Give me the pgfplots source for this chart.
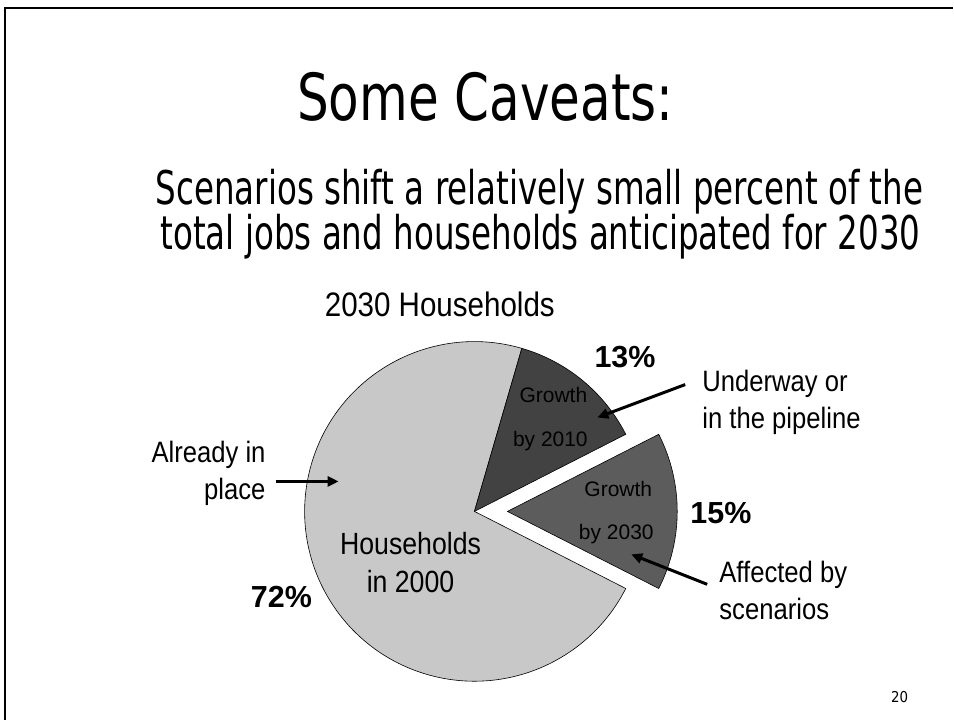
\documentclass[border=0pt]{standalone}
\usepackage{pgfplots}
\pgfplotsset{compat=1.18}
\usepackage{pgfplotstable}
\usetikzlibrary{arrows.meta}
\usepackage{fontspec}
\setmainfont{Liberation Sans}
\newfontfamily\tah[FakeStretch=0.77]{DejaVu Sans}
\newfontfamily\subf[FakeStretch=0.70]{DejaVu Sans}
\newfontfamily\pgnum[FakeStretch=0.89]{DejaVu Sans}
\newfontfamily\nar[FakeStretch=0.87]{Liberation Sans}
\newfontfamily\ari{Liberation Sans}
\definecolor{lightc}{RGB}{200,200,200}
\definecolor{darkc}{RGB}{66,66,66}
\definecolor{midc}{RGB}{92,92,92}

\pgfplotstableread{
label value
Households2000 72
Growth2010 13
Growth2030 15
}\piedata

\begin{document}
\begin{tikzpicture}
\pgfplotstablegetelem{0}{value}\of\piedata \let\vA\pgfplotsretval
\pgfplotstablegetelem{1}{value}\of\piedata \let\vB\pgfplotsretval
\pgfplotstablegetelem{2}{value}\of\piedata \let\vC\pgfplotsretval
\pgfmathsetmacro\sC{-\vC*3.6/2}
\pgfmathsetmacro\eC{\vC*3.6/2}
\pgfmathsetmacro\sB{\eC}
\pgfmathsetmacro\eB{\eC+\vB*3.6}
\pgfmathsetmacro\sA{\eB}
\pgfmathsetmacro\eA{\eB+\vA*3.6}
\begin{axis}[hide axis, scale only axis, width=954pt, height=721pt,
  xmin=0, xmax=954, ymin=-721, ymax=0, clip=false]
\path (axis cs:0,0) rectangle (axis cs:954,-721);
% slide frame
\draw[line width=2.2pt] (axis cs:5,-721) -- (axis cs:5,-8) -- (axis cs:954,-8);
% pie wedges
\filldraw[fill=lightc, draw=black, line width=0.6pt] (axis cs:475,-512) -- ++(\sA:170pt) arc[start angle=\sA, end angle=\eA, radius=170pt] -- cycle;
\filldraw[fill=darkc, draw=black, line width=0.6pt] (axis cs:475,-512) -- ++(\sB:170pt) arc[start angle=\sB, end angle=\eB, radius=170pt] -- cycle;
\filldraw[fill=midc, draw=black, line width=0.6pt] (axis cs:508,-512) -- ++(\sC:170pt) arc[start angle=\sC, end angle=\eC, radius=170pt] -- cycle;
% titles
\node[anchor=base, inner sep=0] at (axis cs:486,-121) {\tah\fontsize{65}{70}\selectfont Some Caveats:};
\node[anchor=base, inner sep=0] at (axis cs:540,-205) {\subf\fontsize{46.5}{50}\selectfont Scenarios shift a relatively small percent of the};
\node[anchor=base, inner sep=0] at (axis cs:541,-250) {\subf\fontsize{46.5}{50}\selectfont total jobs and households anticipated for 2030};
\node[anchor=base west, inner sep=0] at (axis cs:325,-317) {\nar\fontsize{34}{38}\selectfont 2030 Households};
% percentages
\node[anchor=base west, inner sep=0] at (axis cs:595,-368) {\ari\bfseries\fontsize{30.5}{34}\selectfont 13\%};
\node[anchor=base west, inner sep=0] at (axis cs:691,-524) {\ari\bfseries\fontsize{30.5}{34}\selectfont 15\%};
\node[anchor=base west, inner sep=0] at (axis cs:251,-608) {\ari\bfseries\fontsize{30.5}{34}\selectfont 72\%};
% wedge labels
\node[anchor=base, inner sep=0] at (axis cs:554,-403) {\ari\fontsize{21}{24}\selectfont Growth};
\node[anchor=base, inner sep=0] at (axis cs:551,-447) {\ari\fontsize{21}{24}\selectfont by 2010};
\node[anchor=base, inner sep=0] at (axis cs:619,-497) {\ari\fontsize{21}{24}\selectfont Growth};
\node[anchor=base, inner sep=0] at (axis cs:617,-540) {\ari\fontsize{21}{24}\selectfont by 2030};
\node[anchor=base, inner sep=0] at (axis cs:411,-555) {\nar\fontsize{30.7}{34}\selectfont Households};
\node[anchor=base, inner sep=0] at (axis cs:411,-593) {\nar\fontsize{30.7}{34}\selectfont in 2000};
% callouts
\node[anchor=base east, inner sep=0] at (axis cs:266,-463) {\nar\fontsize{29.5}{34}\selectfont Already in};
\node[anchor=base east, inner sep=0] at (axis cs:266,-500) {\nar\fontsize{29.5}{34}\selectfont place};
\node[anchor=base west, inner sep=0] at (axis cs:703,-392) {\nar\fontsize{29.5}{34}\selectfont Underway or};
\node[anchor=base west, inner sep=0] at (axis cs:703,-429) {\nar\fontsize{29.5}{34}\selectfont in the pipeline};
\node[anchor=base west, inner sep=0] at (axis cs:720,-583) {\nar\fontsize{29.5}{34}\selectfont Affected by};
\node[anchor=base west, inner sep=0] at (axis cs:720,-620) {\nar\fontsize{29.5}{34}\selectfont scenarios};
% arrows
\draw[line width=3pt, -{Triangle[length=11pt,width=10pt]}] (axis cs:276,-482) -- (axis cs:339,-482);
\draw[line width=3pt, -{Triangle[length=11pt,width=10pt]}] (axis cs:686,-385) -- (axis cs:598,-418);
\draw[line width=3pt, -{Triangle[length=11pt,width=10pt]}] (axis cs:708,-585) -- (axis cs:632,-555);
% page number
\node[anchor=base west, inner sep=0] at (axis cs:892,-703) {\pgnum\fontsize{15}{18}\selectfont 20};
\end{axis}
\end{tikzpicture}
\end{document}
